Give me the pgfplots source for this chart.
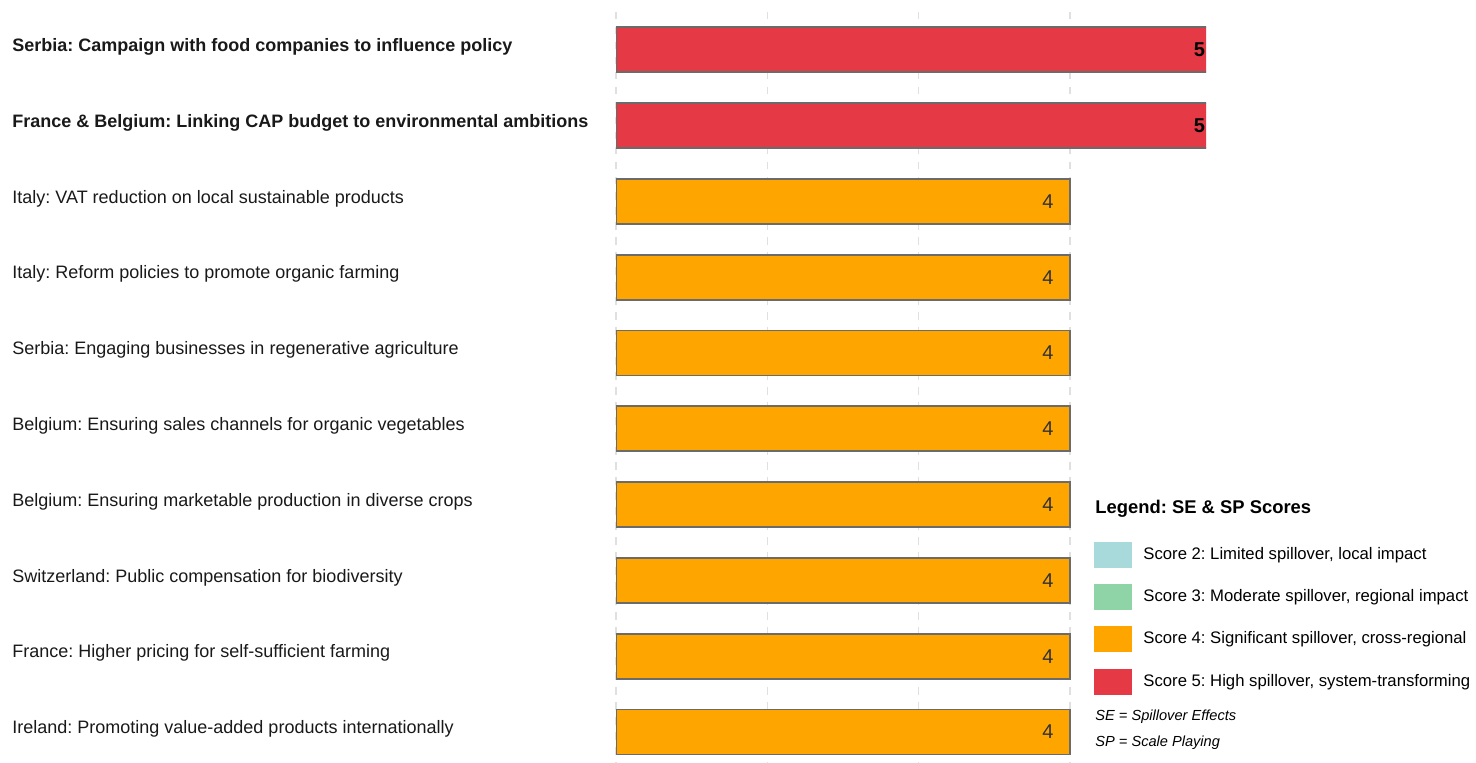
\documentclass[border=0pt]{standalone}
\usepackage{pgfplots}
\usepackage{pgfplotstable}
\pgfplotsset{compat=1.18}
\usepackage{fontspec}
\setmainfont{Liberation Sans}
\frenchspacing
\definecolor{stwo}{HTML}{A8DADC}
\definecolor{sthree}{HTML}{8FD4A7}
\definecolor{sfour}{HTML}{FFA500}
\definecolor{sfive}{HTML}{E63946}
\definecolor{barborder}{HTML}{6B6B6B}
\definecolor{gridc}{HTML}{E0E0E0}
\pgfplotstableread{
idx score
0 5
1 5
}\redtab
\pgfplotstableread{
idx score
2 4
3 4
4 4
5 4
6 4
7 4
8 4
9 4
}\orangetab
\begin{document}
\begin{tikzpicture}
\useasboundingbox (0,0) rectangle (738pt,381.5pt);
\begin{scope}
\clip (0,0) rectangle (603pt,381.5pt);
\begin{axis}[
  at={(308pt,0pt)}, anchor=south west,
  scale only axis, width=325.37pt, height=375.5pt,
  xmin=0, xmax=4.3,
  ymin=-0.5, ymax=9.41, y dir=reverse,
  axis line style={draw=none},
  xtick={0,1,2,3,4}, xticklabels={},
  major tick length=0pt,
  xmajorgrids,
  grid style={gridc, line width=0.75pt, dash pattern=on 3.75pt off 3.75pt},
  ytick={0,1,2,3,4,5,6,7,8,9},
  yticklabels={
    \textbf{Serbia: Campaign with food companies to influence policy},
    \textbf{France \& Belgium: Linking CAP budget to environmental ambitions},
    Italy: VAT reduction on local sustainable products,
    Italy: Reform policies to promote organic farming,
    Serbia: Engaging businesses in regenerative agriculture,
    Belgium: Ensuring sales channels for organic vegetables,
    Belgium: Ensuring marketable production in diverse crops,
    Switzerland: Public compensation for biodiversity,
    France: Higher pricing for self-sufficient farming,
    Ireland: Promoting value-added products internationally},
  yticklabel style={anchor=west, xshift=-302pt, yshift=1.5pt, inner sep=0pt,
    font=\fontsize{9}{10.5}\selectfont, text=black!90},
  /pgf/number format/assume math mode=true,
  xbar, bar width=22.5pt, bar shift=0pt,
  point meta=explicit,
  nodes near coords,
]
\addplot[fill=sfive, draw=barborder, line width=0.9pt,
  nodes near coords style={anchor=center, xshift=-11pt,
    font=\bfseries\fontsize{10}{12}\selectfont, text=black}]
  table[x expr=\thisrow{score}-1, y=idx, meta=score]{\redtab};
\addplot[fill=sfour, draw=barborder, line width=0.9pt,
  nodes near coords style={anchor=center, xshift=-11pt,
    font=\fontsize{10}{12}\selectfont, text=black!80}]
  table[x expr=\thisrow{score}-1, y=idx, meta=score]{\orangetab};
\end{axis}
\end{scope}
% legend
\node[anchor=west, inner sep=0pt, font=\bfseries\fontsize{9.2}{11}\selectfont] at (547.5pt,127pt) {Legend: SE \& SP Scores};
\fill[stwo] (547pt,97.5pt) rectangle (566pt,110.5pt);
\fill[sthree] (547pt,76.5pt) rectangle (566pt,89.5pt);
\fill[sfour] (547pt,55.5pt) rectangle (566pt,68.5pt);
\fill[sfive] (547pt,34pt) rectangle (566pt,47pt);
\begin{scope}[every node/.style={anchor=west, inner sep=0pt, font=\fontsize{8.35}{10}\selectfont}]
\node at (571.5pt,104pt) {Score 2: Limited spillover, local impact};
\node at (571.5pt,83pt) {Score 3: Moderate spillover, regional impact};
\node at (571.5pt,62pt) {Score 4: Significant spillover, cross-regional};
\node at (571.5pt,40.5pt) {Score 5: High spillover, system-transforming};
\end{scope}
\node[anchor=west, inner sep=0pt, font=\itshape\fontsize{7.3}{8.5}\selectfont] at (547.5pt,23pt) {SE = Spillover Effects};
\node[anchor=west, inner sep=0pt, font=\itshape\fontsize{7.3}{8.5}\selectfont] at (547.5pt,10pt) {SP = Scale Playing};
\end{tikzpicture}
\end{document}
